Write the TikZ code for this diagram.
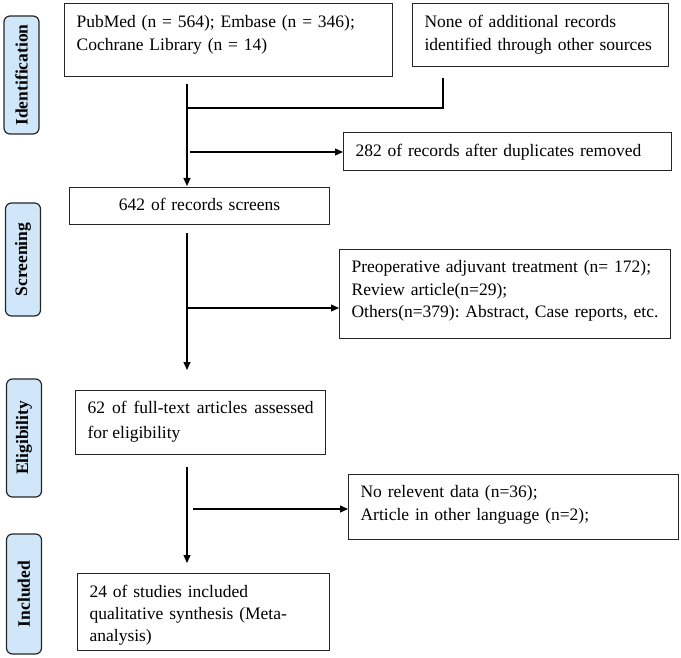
\documentclass[tikz,border=0pt]{standalone}
\usepackage{fontspec}
\setmainfont{Liberation Serif}
\usetikzlibrary{arrows.meta}
\definecolor{stagebg}{RGB}{207,231,248}
\frenchspacing

\begin{document}
\begin{tikzpicture}
	 [x=1pt,y=-1pt,every node/.style={font=\fontsize{17.5}{22.5}\selectfont},
	  box/.style={draw=black!85,line width=1.2pt,anchor=north west,inner xsep=12pt,inner ysep=0pt,align=left},
	  stage/.style={draw=black!85,fill=stagebg,line width=1.2pt,rounded corners=6pt,rotate=90,inner sep=0pt,
	                minimum height=35pt,font=\fontsize{17.5}{21}\selectfont\bfseries},
	  arr/.style={-{Triangle[length=8pt,width=7pt]},line width=1.2pt}]

	\useasboundingbox (0,0) rectangle (681,658);

	  \node (s1) [stage,minimum width=118pt] at (21.5,75) {Identification};
	  \node (s2) [stage,minimum width=113pt] at (23,259.5) {Screening};
	  \node (s3) [stage,minimum width=118pt] at (24,438) {Eligibility};
	  \node (s4) [stage,minimum width=120pt] at (24,594) {Included};

	  \node (ids) [box,text width=304pt,text height=24pt,text depth=49pt] at (64,3) {PubMed (n = 564); Embase (n = 346);\\Cochrane Library (n = 14)};
	  \node (other) [box,text width=232pt,text height=24pt,text depth=39pt] at (412,3) {None of additional records\\identified through other sources};
	  \node (dup) [box,text width=304pt,text height=24pt,text depth=14pt] at (343,132) {282 of records after duplicates removed};
	  \node (screen) [box,align=center,text width=236pt,text height=23pt,text depth=14pt] at (69,187) {642 of records screens};
	  \node (excl1) [box,text width=307pt,text height=23pt,text depth=66pt] at (339,249) {Preoperative adjuvant treatment (n= 172);\\Review article(n=29);\\Others(n=379): Abstract, Case reports, etc.};
	  \node (elig) [box,align=justify,text width=226pt,text height=23pt,text depth=41pt,font=\fontsize{17.5}{25}\selectfont] at (75,390) {62 of full-text articles assessed for eligibility};
	  \node (excl2) [box,text width=306pt,text height=23pt,text depth=42pt] at (348,474) {No relevent data (n=36);\\Article in other language (n=2);};
	  \node (incl) [box,text width=228pt,text height=24pt,text depth=53pt,font=\fontsize{17.5}{22}\selectfont] at (77,573) {24 of studies included\\qualitative synthesis (Meta-\\analysis)};

	  \coordinate (spine) at (187,0);
	  \coordinate (m1) at (443,78);
	  \coordinate (j1) at (188,108);
	  \coordinate (j2) at (190,152);
	  \coordinate (j3) at (188,308);
	  \coordinate (j4) at (193,509);

	\draw[arr,shorten <=7pt,shorten >=1pt] (spine |- ids.south) -- (spine |- screen.north);
	\draw[arr,shorten <=8pt,shorten >=20pt] (spine |- screen.south) -- (spine |- elig.north);
	\draw[arr,shorten <=12pt,shorten >=10pt] (spine |- elig.south) -- (spine |- incl.north);
	\draw[line width=1.2pt] (m1) |- (j1);

	\foreach \from/\to in {j2/dup,j3/excl1,j4/excl2}
    \draw[arr] (\from) -- (\from -| \to.west);

\end{tikzpicture}
\end{document}
